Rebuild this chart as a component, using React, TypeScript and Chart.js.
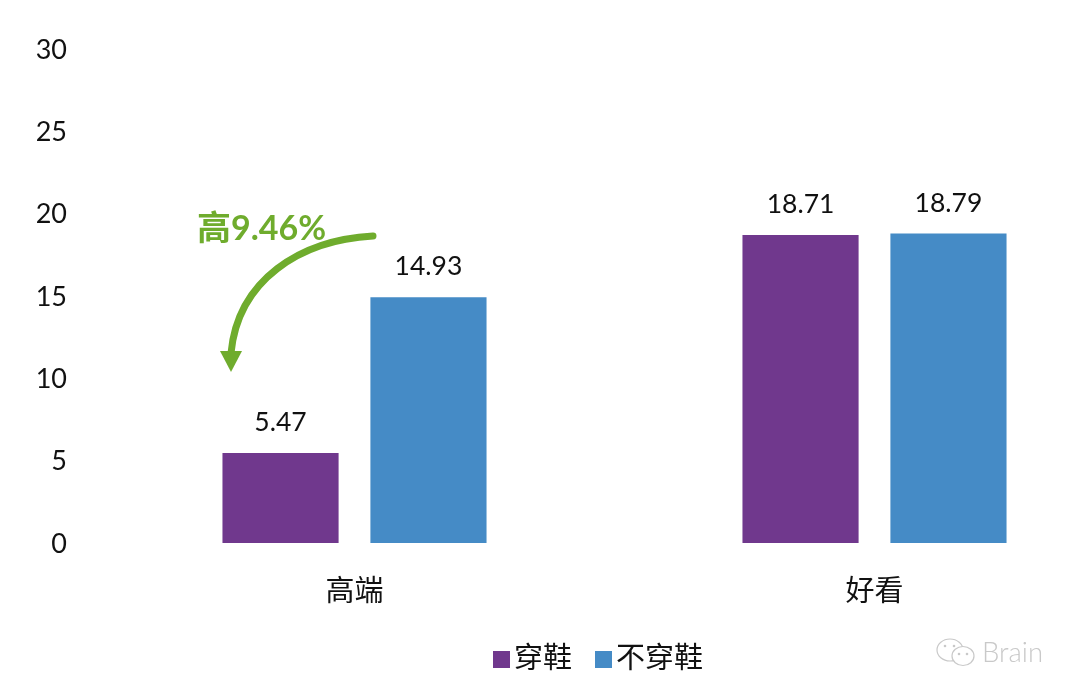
import React, { useEffect, useRef } from "react";
import { Chart, registerables } from "chart.js";

Chart.register(...registerables);

const categories = ["高端", "好看"];
const wearing = [5.47, 18.71];
const notWearing = [14.93, 18.79];
const seriesNames = ["穿鞋", "不穿鞋"];
const seriesColors = ["#70388d", "#458bc6"];
const yMax = 30;
const yStep = 5;
const calloutText = "高9.46%";
const watermark = "Brain";

const FONT = 'Lato, "Noto Sans CJK SC", sans-serif';
const GREEN = "#6fac2d";

const stretchScale = {
  id: "stretchScale",
  afterLayout(chart: any) {
    const x = chart.scales.x;
    x.left = 94.5;
    x.right = 1134.5;
    x.width = 1040;
    x.configure();
  },
};

const overlay = {
  id: "overlay",
  afterDatasetsDraw(chart: any) {
    const ctx = chart.ctx;
    ctx.save();
    // value labels
    ctx.fillStyle = "#111";
    ctx.font = `26.5px ${FONT}`;
    ctx.textAlign = "center";
    ctx.textBaseline = "middle";
    chart.data.datasets.forEach((ds: any, i: number) => {
      chart.getDatasetMeta(i).data.forEach((bar: any, j: number) => {
        ctx.fillText(ds.data[j].toFixed(2), bar.x, bar.y - 30.5);
      });
    });

    // callout arrow
    ctx.strokeStyle = GREEN;
    ctx.fillStyle = GREEN;
    ctx.lineWidth = 7;
    ctx.lineCap = "round";
    ctx.beginPath();
    ctx.moveTo(373, 236);
    ctx.bezierCurveTo(300, 240, 238, 280, 231, 353);
    ctx.stroke();
    ctx.beginPath();
    ctx.moveTo(220, 351);
    ctx.lineTo(242, 351);
    ctx.lineTo(231, 372);
    ctx.closePath();
    ctx.fill();
    ctx.font = `bold 34px ${FONT}`;
    ctx.textAlign = "left";
    ctx.fillText(calloutText, 197, 229);

    // legend
    ctx.textBaseline = "middle";
    ctx.font = `29px ${FONT}`;
    const lx = [493, 595];
    chart.data.datasets.forEach((ds: any, i: number) => {
      ctx.fillStyle = ds.backgroundColor;
      ctx.fillRect(lx[i], 651, 17, 17);
      ctx.fillStyle = "#111";
      ctx.fillText(ds.label, lx[i] + 21, 659);
    });

    // watermark
    ctx.strokeStyle = "#c9c9c9";
    ctx.lineWidth = 1.2;
    ctx.beginPath();
    ctx.ellipse(950, 650, 13, 11, 0, 0, Math.PI * 2);
    ctx.stroke();
    ctx.beginPath();
    ctx.fillStyle = "#fff";
    ctx.ellipse(963, 656, 11, 9.5, 0, 0, Math.PI * 2);
    ctx.fill();
    ctx.stroke();
    ctx.fillStyle = "#c9c9c9";
    [[945, 646], [954, 646], [959, 654], [967, 654]].forEach(([a, b]) => {
      ctx.beginPath();
      ctx.arc(a, b, 1.3, 0, Math.PI * 2);
      ctx.fill();
    });
    ctx.font = `300 27.5px ${FONT}`;
    ctx.fillText(watermark, 982, 653);
    ctx.restore();
  },
};

export default function App() {
  const ref = useRef<HTMLCanvasElement>(null);
  useEffect(() => {
    const chart = new Chart(ref.current as HTMLCanvasElement, {
      type: "bar",
      data: {
        labels: categories,
        datasets: [
          { label: seriesNames[0], data: wearing, backgroundColor: seriesColors[0], clip: false },
          { label: seriesNames[1], data: notWearing, backgroundColor: seriesColors[1], clip: false },
        ],
      } as any,
      options: {
        animation: false,
        responsive: false,
        layout: { padding: { top: 49, left: 0, right: 0, bottom: 0 } },
        categoryPercentage: 0.569,
        barPercentage: 0.785,
        plugins: { legend: { display: false }, tooltip: { enabled: false } },
        scales: {
          x: {
            grid: { display: false },
            border: { display: false },
            afterFit: (s: any) => { s.height = 154; },
            ticks: {
              autoSkip: false,
              maxRotation: 0,
              padding: 23,
              color: "#111",
              font: { family: FONT, size: 29 },
            },
          },
          y: {
            min: 0,
            max: yMax,
            grid: { display: false, drawTicks: false },
            border: { display: false },
            afterFit: (s: any) => { s.width = 94; },
            ticks: {
              stepSize: yStep,
              padding: 27,
              labelOffset: 1,
              color: "#111",
              font: { family: FONT, size: 27 },
            },
          },
        },
      } as any,
      plugins: [stretchScale, overlay],
    });
    return () => chart.destroy();
  }, []);
  return (
    <canvas
      ref={ref}
      width={1080}
      height={697}
      style={{ position: "fixed", left: 0, top: 0, width: 1080, height: 697, background: "#fff" }}
    />
  );
}
